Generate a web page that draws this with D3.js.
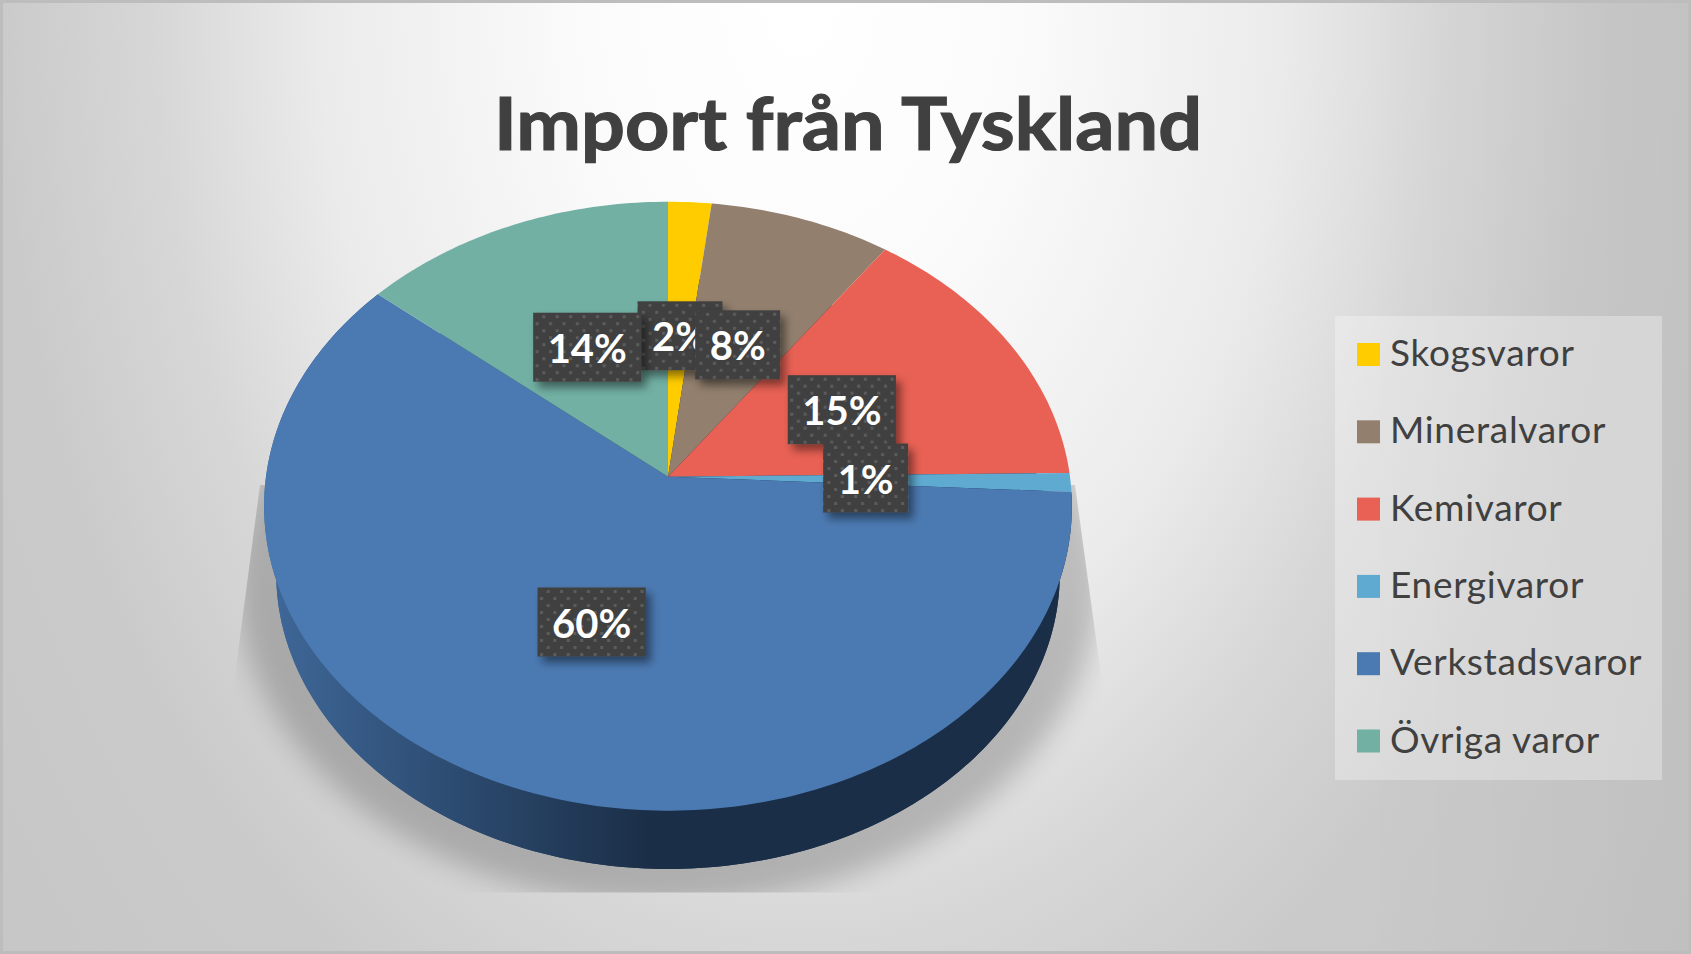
<!DOCTYPE html>
<html>
<head>
<meta charset="utf-8">
<script src="https://d3js.org/d3.v7.min.js"></script>
<style>
  html, body { margin: 0; padding: 0; background: #d5d5d5; }
  svg { display: block; }
  text { font-family: Lato, "Open Sans", sans-serif; }
</style>
</head>
<body>
<div id="chart"></div>
<script>
// chart data
const categories = ["Skogsvaror", "Mineralvaror", "Kemivaror", "Energivaror", "Verkstadsvaror", "Övriga varor"];
const shares = [1.9, 8.0, 14.9, 1.0, 60.3, 13.9];
const colors = ["#ffcc00", "#927f6e", "#e86154", "#5faad1", "#4b79b1", "#72b0a4"];
const chartTitle = "Import från Tyskland";

// small hand moves of the data labels, same order as categories
const labelNudge = [[0.6, 2.7], [0, 2.6], [-0.5, 1.2], [-3.5, -1.5], [0.5, -1.7], [0.7, 1.4]];

const width = 1691, height = 954;

// the tilted pie is a circle seen in perspective
const pie3d = {
  cx: 668, cy: 476.7,   // where the pie's centre lands
  b: 402, a: 301.6,     // horizontal and vertical size of the top face
  k: 0.0969,            // perspective strength
  wallScale: 0.97, wallShift: 68.3
};

// unit circle point -> screen
function project(x, y, scale = 1, shift = 0) {
  const w = 1 - pie3d.k * y;
  return [
    pie3d.cx + scale * pie3d.b * x / w,
    pie3d.cy + shift + scale * pie3d.a * y / w
  ];
}
const onRim = (angle, r = 1) => [r * Math.sin(angle), -r * Math.cos(angle)];

const svg = d3.select("#chart").append("svg")
    .attr("width", width)
    .attr("height", height);
const defs = svg.append("defs");

// background
const bg = defs.append("radialGradient")
    .attr("id", "bg")
    .attr("gradientUnits", "userSpaceOnUse")
    .attr("cx", 0).attr("cy", 0).attr("r", 1200)
    .attr("gradientTransform", "translate(800,5) scale(1,1.45)");
[[0, "#ffffff"], [0.18, "#fbfbfb"], [0.4, "#ebebeb"], [0.535, "#d7d7d7"], [0.67, "#cacaca"], [1, "#c4c4c4"]]
  .forEach(([o, c]) => bg.append("stop").attr("offset", o).attr("stop-color", c));

// the right side runs a little darker than the left
const rightSide = defs.append("linearGradient")
    .attr("id", "rightSide")
    .attr("x1", 0).attr("x2", 1).attr("y1", 0).attr("y2", 0);
[[0.8, 0], [1, 0.03]]
  .forEach(([o, a]) => rightSide.append("stop").attr("offset", o).attr("stop-color", "#000").attr("stop-opacity", a));

// side wall shading
const wall = defs.append("linearGradient")
    .attr("id", "wall")
    .attr("gradientUnits", "userSpaceOnUse")
    .attr("x1", 265).attr("x2", 650).attr("y1", 0).attr("y2", 0);
[[0, "#3f6899"], [0.45, "#2e4e74"], [1, "#1b2e47"]]
  .forEach(([o, c]) => wall.append("stop").attr("offset", o).attr("stop-color", c));

// dotted fill of the data labels
const dots = defs.append("pattern")
    .attr("id", "dots")
    .attr("patternUnits", "userSpaceOnUse")
    .attr("width", 13.4).attr("height", 14);
dots.append("rect").attr("width", 13.4).attr("height", 14).attr("fill", "#404040");
[[2, 3], [8.7, 10]].forEach(([x, y]) => dots.append("rect")
    .attr("x", x).attr("y", y).attr("width", 3).attr("height", 3).attr("fill", "#5c5c5c"));

defs.append("filter").attr("id", "blur")
    .attr("x", "-20%").attr("y", "-20%").attr("width", "140%").attr("height", "140%")
  .append("feGaussianBlur").attr("stdDeviation", 14);

defs.append("filter").attr("id", "labelShadow")
    .attr("x", "-30%").attr("y", "-30%").attr("width", "170%").attr("height", "170%")
  .append("feDropShadow")
    .attr("dx", 5).attr("dy", 6).attr("stdDeviation", 4)
    .attr("flood-color", "#000").attr("flood-opacity", 0.45);

// the shadow stops at hard edges in the original
defs.append("clipPath").attr("id", "shadowClip")
  .append("polygon")
    .attr("points", "260,485 233,690 233,892.5 1103,892.5 1103,690 1075,485");

svg.append("rect")
    .attr("width", width).attr("height", height)
    .attr("fill", "url(#bg)");
svg.append("rect")
    .attr("width", width).attr("height", height)
    .attr("fill", "url(#rightSide)");

// border
svg.append("rect")
    .attr("x", 1.5).attr("y", 1.5)
    .attr("width", width - 3).attr("height", height - 3)
    .attr("fill", "none")
    .attr("stroke", "#bdbdbd")
    .attr("stroke-width", 3);

// title
svg.append("text")
    .attr("x", 848).attr("y", 150)
    .attr("text-anchor", "middle")
    .attr("font-size", 72)
    .attr("font-weight", 700)
    .attr("fill", "#404040")
    .attr("stroke", "#404040")
    .attr("stroke-width", 1.2)
    .attr("textLength", 708)
    .attr("lengthAdjust", "spacingAndGlyphs")
    .text(chartTitle);

// slices
const pieLayout = d3.pie().sort(null).value(d => d.share);
const arcs = pieLayout(categories.map((name, i) => ({ name, share: shares[i], color: colors[i], nudge: labelNudge[i] })));

const line = d3.line();
const fullCircle = d3.range(0, 2 * Math.PI, Math.PI / 180);
const sweep = (a0, a1) => {
  const n = Math.max(2, Math.ceil((a1 - a0) / (Math.PI / 180)));
  return d3.range(n + 1).map(i => a0 + (a1 - a0) * i / n);
};
const discPath = (r, scale, shift) =>
  line(fullCircle.map(t => project(...onRim(t, r), scale, shift))) + "Z";

// floor shadow
svg.append("g")
    .attr("clip-path", "url(#shadowClip)")
  .append("path")
    .attr("d", discPath(1.1, pie3d.wallScale, 68))
    .attr("fill", "#000")
    .attr("opacity", 0.2)
    .attr("filter", "url(#blur)");

// side wall: only the big slice faces the viewer
const front = d3.greatest(arcs, d => d.value);
svg.append("path")
    .attr("d", discPath(1, pie3d.wallScale, pie3d.wallShift))
    .attr("fill", "url(#wall)");
const frontAngles = sweep(front.startAngle, front.endAngle);
svg.append("path")
    .attr("d", line(
      frontAngles.map(t => project(...onRim(t)))
        .concat(frontAngles.slice().reverse().map(t => project(...onRim(t), pie3d.wallScale, pie3d.wallShift)))
    ) + "Z")
    .attr("fill", "url(#wall)");

// top face
svg.append("g").selectAll("path")
  .data(arcs)
  .join("path")
    .attr("d", d => line(
      [project(0, 0)].concat(sweep(d.startAngle, d.endAngle).map(t => project(...onRim(t))))
    ) + "Z")
    .attr("fill", d => d.data.color);

// data labels, in the middle of the slice's radius, drawn in series order
const labels = svg.append("g").selectAll("g")
  .data(arcs)
  .join("g")
    .attr("transform", d => {
      const mid = (d.startAngle + d.endAngle) / 2;
      const [x, y] = project(...onRim(mid, 0.5));
      return `translate(${x + d.data.nudge[0]},${y + d.data.nudge[1]})`;
    });

labels.append("rect")
    .attr("class", "box")
    .attr("y", -34.5)
    .attr("height", 69)
    .attr("fill", "url(#dots)")
    .attr("filter", "url(#labelShadow)");

labels.append("text")
    .attr("text-anchor", "middle")
    .attr("y", 15.5)
    .attr("font-size", 40)
    .attr("font-weight", 700)
    .attr("fill", "#fff")
    .text(d => `${Math.round(d.data.share)}%`);

labels.each(function () {
  const g = d3.select(this);
  const w = g.select("text").node().getComputedTextLength() + 29;
  g.select("rect").attr("x", -w / 2).attr("width", w);
});

// legend
const legendY = d3.scalePoint()
    .domain(categories)
    .range([354.5, 741]);

svg.append("rect")
    .attr("x", 1335).attr("y", 316)
    .attr("width", 327).attr("height", 464)
    .attr("fill", "#fff")
    .attr("opacity", 0.3);

const legend = svg.append("g").selectAll("g")
  .data(categories)
  .join("g")
    .attr("transform", d => `translate(1357,${legendY(d)})`);

legend.append("rect")
    .attr("y", -11.5)
    .attr("width", 23).attr("height", 23)
    .attr("fill", (d, i) => colors[i]);

legend.append("text")
    .attr("x", 33)
    .attr("y", 11.5)
    .attr("font-size", 37)
    .attr("letter-spacing", 0.7)
    .attr("fill", "#404040")
    .text(d => d);
</script>
</body>
</html>
